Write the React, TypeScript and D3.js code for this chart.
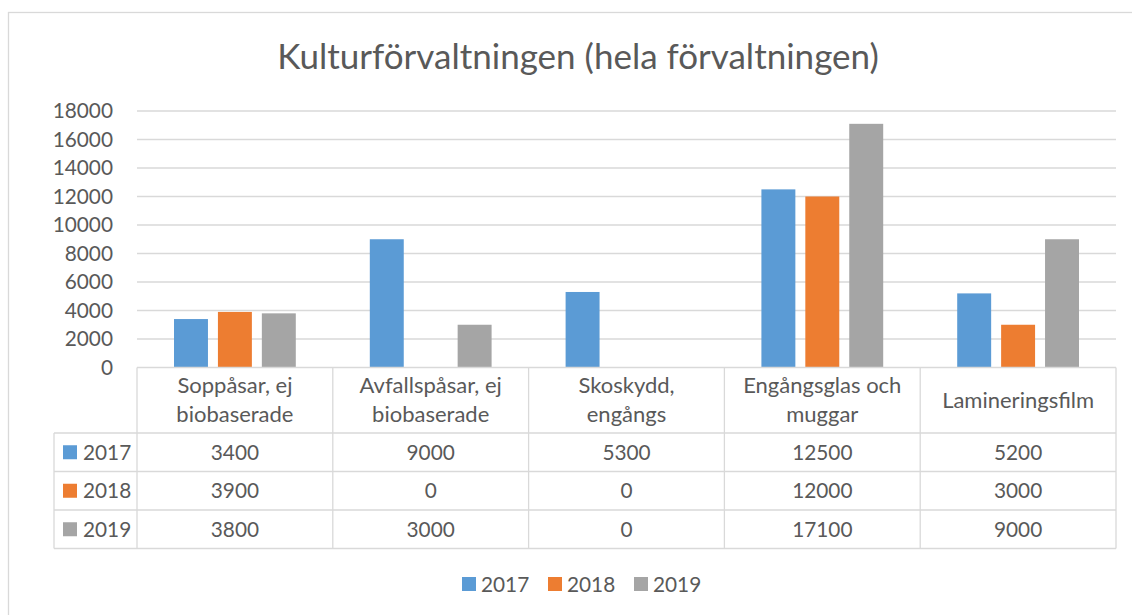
import React from "react";
import * as d3 from "d3";

const categories: string[][] = [
  ["Soppåsar, ej", "biobaserade"],
  ["Avfallspåsar, ej", "biobaserade"],
  ["Skoskydd,", "engångs"],
  ["Engångsglas och", "muggar"],
  ["Lamineringsfilm"],
];
const seriesNames = ["2017", "2018", "2019"];
const values2017 = [3400, 9000, 5300, 12500, 5200];
const values2018 = [3900, 0, 0, 12000, 3000];
const values2019 = [3800, 3000, 0, 17100, 9000];
const seriesValues = [values2017, values2018, values2019];
const colors = ["#5B9BD5", "#ED7D31", "#A5A5A5"];
const yTicks = [0, 2000, 4000, 6000, 8000, 10000, 12000, 14000, 16000, 18000];
const title = "Kulturförvaltningen (hela förvaltningen)";

const W = 1132;
const H = 615;
const font = "Lato, 'Open Sans', sans-serif";
const textColor = "#595959";
const gridColor = "#D9D9D9";
const numSize = 20.8;
const labelSize = 22;

export default function App() {
  const plotLeft = 137;
  const plotRight = 1116;
  const plotTop = 111;
  const plotBottom = 367.5;
  const tableLeft = 54;
  const catRowBottom = 433;
  const rowH = 38.5;

  const y = d3.scaleLinear().domain([0, 18000]).range([plotBottom, plotTop]);
  const x0 = d3
    .scaleBand<number>()
    .domain(categories.map((_, i) => i))
    .range([plotLeft, plotRight])
    .padding(0);
  const cw = x0.bandwidth();
  const x1 = d3
    .scaleBand<number>()
    .domain(seriesNames.map((_, i) => i))
    .range([cw * 0.189, cw * 0.811])
    .paddingInner(0.227)
    .paddingOuter(0);

  const rowTops = seriesNames.map((_, i) => catRowBottom + i * rowH);
  const tableBottom = catRowBottom + seriesNames.length * rowH;

  return (
    <svg
      width={W}
      height={H}
      style={{ position: "absolute", left: 0, top: 0, display: "block", background: "#fff" }}
      fontFamily={font}
    >
      <rect x={8.5} y={12.5} width={W + 10} height={H + 10} fill="#fff" stroke={gridColor} strokeWidth={1.3} />
      <text x={578} y={69} textAnchor="middle" fontSize={35} fill={textColor}>
        {title}
      </text>

      {yTicks
        .filter((t) => t > 0)
        .map((t) => (
          <line key={t} x1={plotLeft} x2={plotRight} y1={y(t)} y2={y(t)} stroke={gridColor} strokeWidth={1.3} />
        ))}
      {yTicks.map((t) => (
        <text key={t} x={113} y={y(t)} dy="0.35em" textAnchor="end" fontSize={numSize} fill={textColor}>
          {t}
        </text>
      ))}

      {seriesValues.map((vals, s) =>
        vals.map((v, c) => (
          <rect
            key={`${s}-${c}`}
            x={(x0(c) as number) + (x1(s) as number)}
            y={y(v)}
            width={x1.bandwidth()}
            height={plotBottom - y(v)}
            fill={colors[s]}
          />
        ))
      )}

      <g stroke={gridColor} strokeWidth={1.3} fill="none">
        <line x1={plotLeft} x2={plotRight} y1={plotBottom} y2={plotBottom} />
        <line x1={tableLeft} x2={plotRight} y1={catRowBottom} y2={catRowBottom} />
        {rowTops.map((rt, i) => (
          <line key={i} x1={tableLeft} x2={plotRight} y1={rt + rowH} y2={rt + rowH} />
        ))}
        <line x1={tableLeft} x2={tableLeft} y1={catRowBottom} y2={tableBottom} />
        {categories.map((_, i) => (
          <line key={i} x1={x0(i) as number} x2={x0(i) as number} y1={plotBottom} y2={tableBottom} />
        ))}
        <line x1={plotRight} x2={plotRight} y1={plotBottom} y2={tableBottom} />
      </g>

      {categories.map((lines, i) => {
        const cx = (x0(i) as number) + cw / 2;
        const mid = (plotBottom + catRowBottom) / 2;
        const lh = 29;
        const start = mid - ((lines.length - 1) * lh) / 2;
        return (
          <text key={i} x={cx} textAnchor="middle" fontSize={labelSize} fill={textColor}>
            {lines.map((l, j) => (
              <tspan key={j} x={cx} y={start + j * lh} dy="0.35em">
                {l}
              </tspan>
            ))}
          </text>
        );
      })}

      {seriesNames.map((name, s) => {
        const cy = rowTops[s] + rowH / 2;
        return (
          <g key={name}>
            <rect x={63} y={cy - 7} width={14} height={14} fill={colors[s]} />
            <text x={83} y={cy} dy="0.35em" fontSize={numSize} fill={textColor}>
              {name}
            </text>
            {seriesValues[s].map((v, c) => (
              <text
                key={c}
                x={(x0(c) as number) + cw / 2}
                y={cy}
                dy="0.35em"
                textAnchor="middle"
                fontSize={numSize}
                fill={textColor}
              >
                {v}
              </text>
            ))}
          </g>
        );
      })}

      {seriesNames.map((name, s) => {
        const lx = 462 + s * 86;
        return (
          <g key={name}>
            <rect x={lx} y={577} width={14} height={14} fill={colors[s]} />
            <text x={lx + 19} y={585} dy="0.35em" fontSize={numSize} fill={textColor}>
              {name}
            </text>
          </g>
        );
      })}
    </svg>
  );
}
